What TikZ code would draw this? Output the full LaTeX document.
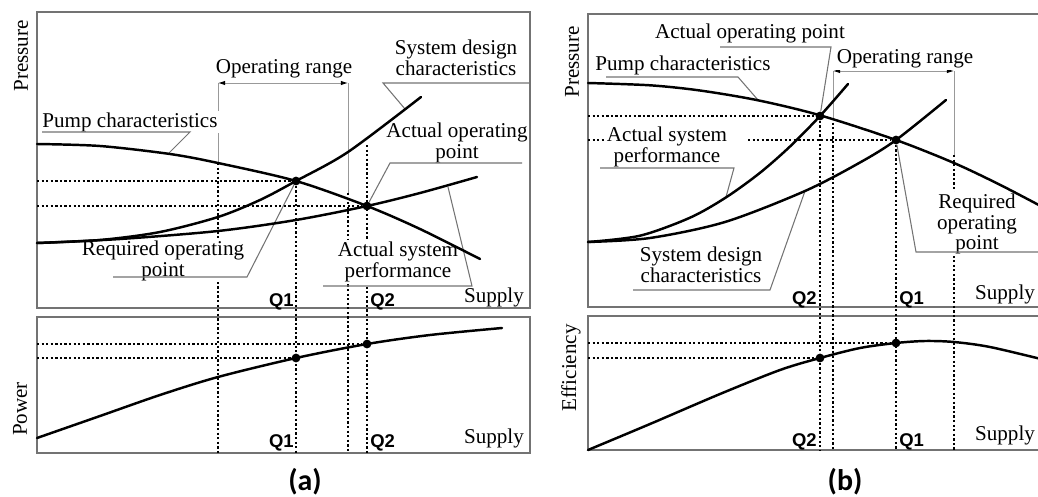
\documentclass[tikz,border=0pt]{standalone}
\usepackage{fontspec}
\setmainfont{Liberation Serif}
\newfontfamily\qfont{Liberation Sans}
\newfontfamily\capfont{Carlito}
\usetikzlibrary{arrows.meta}

\tikzset{
  frame/.style={draw=black!55, line width=0.8pt},
  curve/.style={line width=1.4pt, line cap=round},
  leader/.style={draw=black!55, line width=0.6pt},
  guide/.style={line width=0.6pt, dash pattern=on 1.3pt off 1.3pt},
  rangeline/.style={draw=black!40, line width=0.5pt},
  rangetip/.style={{Latex[length=4pt,width=2.5pt,color=black]}-{Latex[length=4pt,width=2.5pt,color=black]}},
  lbl/.style={font=\fontsize{12}{12}\selectfont, align=center, inner sep=1pt, fill=white},
  qlbl/.style={font=\qfont\bfseries\fontsize{10.5}{10.5}\selectfont, inner sep=0pt},
  axlbl/.style={font=\fontsize{12}{12}\selectfont, rotate=90},
  tag/.style={font=\capfont\bfseries\fontsize{17}{17}\selectfont},
  opdot/.style={circle, fill, inner sep=0pt, minimum size=5pt},
}

\begin{document}
\begin{tikzpicture}[x=0.02cm, y=-0.02cm]
  \useasboundingbox (0,0) rectangle (1038,497);

  % ---------- (a) ----------
  \draw[frame] (37,12) rectangle (530,308);
  \draw[frame] (37,317) rectangle (530,453);

  \node[opdot] (a-q1) at (296,181) {};
  \node[opdot] (a-q2) at (367,206) {};
  \node[opdot] (a-q1p) at (296,358) {};
  \node[opdot] (a-q2p) at (367,344) {};

  \draw[guide] (37,181) -- (a-q1);
  \draw[guide] (37,206) -- (a-q2);
  \draw[guide] (37,358) -- (a-q1p);
  \draw[guide] (37,344) -- (a-q2p);
  \draw[guide] (a-q1) -- (296,453);
  \draw[guide] (367,145) -- (367,453);
  \draw[rangeline] (218,83) -- (218,163);
  \draw[rangeline] (348,83) -- (348,193);
  \draw[guide] (218,163) -- (218,453);
  \draw[guide] (348,193) -- (348,453);
  \draw[rangeline, rangetip] (218,83) -- (348,83);

  \node[lbl] (a-range) at (284,69) {Operating range};
  \node[lbl] (a-pump) at (130,122) {Pump characteristics};
  \node[lbl] (a-sys) at (456,58) {System design\\characteristics};
  \node[lbl] (a-act) at (457,143) {Actual operating\\point};
  \node[lbl, font=\fontsize{12}{9.5}\selectfont] (a-req) at (163,261) {Required operating\\point};
  \node[lbl, font=\fontsize{12}{11}\selectfont] (a-perf) at (398,262) {Actual system\\performance};

  \coordinate (a-pump-l) at (42,132);   \coordinate (a-pump-r) at (190,132);  \coordinate (a-pump-e) at (168,154);
  \coordinate (a-sys-l) at (383,83);    \coordinate (a-sys-r) at (530,83);    \coordinate (a-sys-e) at (405,109);
  \coordinate (a-act-l) at (390,163);   \coordinate (a-act-r) at (522,163);
  \coordinate (a-req-l) at (113,277);   \coordinate (a-req-r) at (247,277);
  \coordinate (a-perf-l) at (323,286);  \coordinate (a-perf-r) at (472,286); \coordinate (a-perf-e) at (448,187);
  \draw[leader] (a-pump-l) -- (a-pump-r) -- (a-pump-e);
  \draw[leader] (a-sys-r) -- (a-sys-l) -- (a-sys-e);
  \draw[leader] (a-act-r) -- (a-act-l) -- (a-q2);
  \draw[leader] (a-req-l) -- (a-req-r) -- (a-q1);
  \draw[leader] (a-perf-l) -- (a-perf-r) -- (a-perf-e);

  \draw[curve] plot[smooth] coordinates {(37,144) (100,146) (170,154) (218,163) (296,181) (367,206) (420,229) (480,259)};
  \draw[curve] plot[smooth] coordinates {(37,243) (100,240) (160,232) (218,217) (260,200) (296,181) (348,152) (421,97)};
  \draw[curve] plot[smooth] coordinates {(37,243) (120,239) (218,231) (296,220) (367,206) (420,193) (477,177)};
  \draw[curve] plot[smooth] coordinates {(37,438) (100,416) (160,395) (218,377) (296,358) (367,344) (430,335) (502,328)};

  \node[qlbl, anchor=base east] at (294,306) {Q1};
  \node[qlbl, anchor=base west] at (370,306) {Q2};
  \node[qlbl, anchor=base east] at (294,447) {Q1};
  \node[qlbl, anchor=base west] at (370,447) {Q2};
  \node[lbl, fill=none, anchor=base west] at (462,302) {Supply};
  \node[lbl, fill=none, anchor=base west] at (462,443) {Supply};
  \node[axlbl] at (21,56) {Pressure};
  \node[axlbl] at (20,409) {Power};
  \node[tag] at (305,482) {(a)};

  % ---------- (b) ----------
  \draw[frame] (1045,14) -- (588,14) -- (588,307) -- (1045,307);
  \draw[frame] (1045,316) -- (588,316) -- (588,450) -- (1045,450);

  \node[opdot] (b-q2) at (820,116) {};
  \node[opdot] (b-q1) at (896,140) {};
  \node[opdot] (b-q2e) at (820,358) {};
  \node[opdot] (b-q1e) at (896,343) {};

  \draw[guide] (588,116) -- (b-q2);
  \draw[guide] (588,140) -- (606,140);
  \draw[guide] (748,140) -- (b-q1);
  \draw[guide] (588,358) -- (b-q2e);
  \draw[guide] (588,343) -- (b-q1e);
  \draw[guide] (b-q2) -- (820,450);
  \draw[guide] (b-q1) -- (896,450);
  \draw[rangeline] (833,71) -- (833,118);
  \draw[rangeline] (954,71) -- (954,155);
  \draw[guide] (833,118) -- (833,450);
  \draw[guide] (954,155) -- (954,450);
  \draw[rangeline, rangetip] (833,71) -- (954,71);

  \node[lbl] (b-act) at (750,33) {Actual operating point};
  \node[lbl] (b-range) at (905,59) {Operating range};
  \node[lbl] (b-pump) at (683,65) {Pump characteristics};
  \node[lbl] (b-perf) at (667,147) {Actual system\\performance};
  \node[lbl] (b-sys) at (701,265) {System design\\characteristics};
  \node[lbl, font=\fontsize{12}{10.2}\selectfont] (b-req) at (977,224) {Required\\operating\\point};

  \coordinate (b-act-l) at (720,47);    \coordinate (b-act-r) at (831,47);
  \coordinate (b-pump-l) at (606,77);   \coordinate (b-pump-r) at (738,77);   \coordinate (b-pump-e) at (758,100);
  \coordinate (b-perf-l) at (600,168);  \coordinate (b-perf-r) at (734,168);  \coordinate (b-perf-e) at (726,197);
  \coordinate (b-sys-l) at (633,290);   \coordinate (b-sys-r) at (770,290);   \coordinate (b-sys-e) at (805,191);
  \coordinate (b-req-l) at (916,252);   \coordinate (b-req-r) at (1045,252);
  \draw[leader] (b-act-l) -- (b-act-r) -- (b-q2);
  \draw[leader] (b-pump-l) -- (b-pump-r) -- (b-pump-e);
  \draw[leader] (b-perf-l) -- (b-perf-r) -- (b-perf-e);
  \draw[leader] (b-sys-l) -- (b-sys-r) -- (b-sys-e);
  \draw[leader] (b-req-r) -- (b-req-l) -- (b-q1);

  % pump, actual system and system design curves
  \draw[curve] plot[smooth] coordinates {(588,83) (650,85.3) (700,90.5) (758,100.3) (820,115.3) (896,140) (954,163) (1000,184.8) (1045,208.3)};
  \draw[curve] plot[smooth] coordinates {(588,242) (640,235.7) (690,217.7) (726,197.4) (760,172.8) (790,146.5) (820,116) (848,84)};
  \draw[curve] plot[smooth] coordinates {(588,242) (650,238) (725,222) (805,191) (860,162.5) (896,140) (946,100)};
  % efficiency
  \draw[curve] plot[smooth] coordinates {(588,450) (650,424) (720,394) (780,370) (820,358) (860,348) (896,343) (925,341) (954,342) (990,347) (1045,360)};

  \node[qlbl, anchor=base east] at (817,304) {Q2};
  \node[qlbl, anchor=base west] at (899,304) {Q1};
  \node[qlbl, anchor=base east] at (817,446) {Q2};
  \node[qlbl, anchor=base west] at (899,446) {Q1};
  \node[lbl, fill=none, anchor=base east] at (1037,299) {Supply};
  \node[lbl, fill=none, anchor=base east] at (1037,440) {Supply};
  \node[axlbl] at (572,62) {Pressure};
  \node[axlbl] at (571,368) {Efficiency};
  \node[tag] at (845,482) {(b)};
\end{tikzpicture}
\end{document}
